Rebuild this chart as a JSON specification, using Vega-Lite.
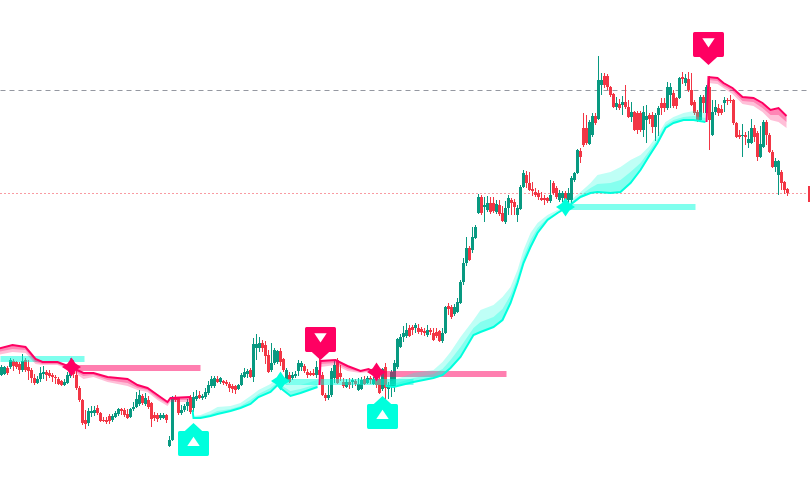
{"$schema":"https://vega.github.io/schema/vega-lite/v6.json","width":810,"height":493,"padding":0,"autosize":{"type":"none"},"background":"#ffffff","view":{"stroke":null},
"config":{"scale":{"nice":false,"zero":false}},
"datasets":{
"levels":[{"t":0,"t2":810,"p":409.5,"kind":"dash"},{"t":0,"t2":810,"p":306.5,"kind":"dot"}],
"zones":[{"t":0,"t2":84,"hi":144,"lo":138,"d":"up"},{"t":285,"t2":413,"hi":121,"lo":115,"d":"up"},{"t":565,"t2":695,"hi":296,"lo":290,"d":"up"},{"t":70,"t2":200,"hi":135,"lo":129,"d":"down"},{"t":376,"t2":506,"hi":129,"lo":123,"d":"down"}],
"stars":[{"t":71,"p":133,"d":"down"},{"t":280,"p":119,"d":"up"},{"t":376,"p":128,"d":"down"},{"t":565,"p":293,"d":"up"}],
"signals":[{"t":193,"p":56.5,"d":"up"},{"t":382,"p":83.5,"d":"up"},{"t":320,"p":160.5,"d":"down"},{"t":708,"p":455.5,"d":"down"}],
"bands":[
{"s":"p1","d":"down","t":-3,"a":151,"b":145,"m":148},{"s":"p1","d":"down","t":12,"a":155,"b":148,"m":151},{"s":"p1","d":"down","t":25,"a":153,"b":147,"m":150},{"s":"p1","d":"down","t":35,"a":141,"b":136,"m":138},{"s":"p1","d":"down","t":42,"a":138,"b":135,"m":136},{"s":"p1","d":"down","t":57,"a":138,"b":135,"m":136},{"s":"p1","d":"down","t":70,"a":133,"b":130,"m":131},{"s":"p1","d":"down","t":83,"a":127,"b":121,"m":124},{"s":"p1","d":"down","t":93,"a":127,"b":123,"m":125},{"s":"p1","d":"down","t":107,"a":123,"b":118,"m":120},{"s":"p1","d":"down","t":127,"a":121,"b":114,"m":117},{"s":"p1","d":"down","t":137,"a":115,"b":110,"m":112},{"s":"p1","d":"down","t":147,"a":112,"b":108,"m":110},{"s":"p1","d":"down","t":157,"a":105,"b":100,"m":102},{"s":"p1","d":"down","t":167,"a":98,"b":94,"m":96},{"s":"p1","d":"down","t":170,"a":102,"b":98,"m":100},{"s":"p1","d":"down","t":190,"a":103,"b":98,"m":100},
{"s":"c1","d":"up","t":192,"a":90,"b":90,"m":90},{"s":"c1","d":"up","t":193,"a":82,"b":84,"m":83},{"s":"c1","d":"up","t":200,"a":82,"b":85,"m":84},{"s":"c1","d":"up","t":210,"a":84,"b":89,"m":86},{"s":"c1","d":"up","t":217,"a":86,"b":93,"m":89},{"s":"c1","d":"up","t":230,"a":89,"b":94,"m":91},{"s":"c1","d":"up","t":240,"a":92,"b":97,"m":94},{"s":"c1","d":"up","t":250,"a":96,"b":104,"m":100},{"s":"c1","d":"up","t":258,"a":103,"b":110,"m":106},{"s":"c1","d":"up","t":270,"a":108,"b":116,"m":112},{"s":"c1","d":"up","t":277,"a":115,"b":122,"m":118},{"s":"c1","d":"up","t":280,"a":112,"b":118,"m":115},{"s":"c1","d":"up","t":290,"a":104,"b":115,"m":109},{"s":"c1","d":"up","t":300,"a":107,"b":115,"m":111},{"s":"c1","d":"up","t":317,"a":113,"b":120,"m":116},
{"s":"p2","d":"down","t":319,"a":115,"b":115,"m":115},{"s":"p2","d":"down","t":320,"a":139,"b":133,"m":136},{"s":"p2","d":"down","t":335,"a":140,"b":135,"m":137},{"s":"p2","d":"down","t":347,"a":134,"b":129,"m":131},{"s":"p2","d":"down","t":360,"a":129,"b":127,"m":128},{"s":"p2","d":"down","t":368,"a":131,"b":128,"m":129},{"s":"p2","d":"down","t":376,"a":127,"b":125,"m":126},
{"s":"c2","d":"up","t":385,"a":114,"b":116,"m":115},{"s":"c2","d":"up","t":393,"a":113,"b":120,"m":116},{"s":"c2","d":"up","t":413,"a":118,"b":127,"m":122},{"s":"c2","d":"up","t":433,"a":122,"b":130,"m":126},{"s":"c2","d":"up","t":442,"a":125,"b":138,"m":131},{"s":"c2","d":"up","t":450,"a":132,"b":148,"m":140},{"s":"c2","d":"up","t":460,"a":143,"b":163,"m":153},{"s":"c2","d":"up","t":473,"a":165,"b":180,"m":172},{"s":"c2","d":"up","t":480,"a":168,"b":190,"m":178},{"s":"c2","d":"up","t":493,"a":173,"b":195,"m":183},{"s":"c2","d":"up","t":502,"a":180,"b":203,"m":191},{"s":"c2","d":"up","t":510,"a":197,"b":213,"m":205},{"s":"c2","d":"up","t":517,"a":217,"b":230,"m":223},{"s":"c2","d":"up","t":523,"a":237,"b":250,"m":243},{"s":"c2","d":"up","t":530,"a":253,"b":267,"m":260},{"s":"c2","d":"up","t":537,"a":267,"b":277,"m":272},{"s":"c2","d":"up","t":547,"a":280,"b":285,"m":282},{"s":"c2","d":"up","t":557,"a":287,"b":290,"m":288},{"s":"c2","d":"up","t":567,"a":293,"b":297,"m":295},{"s":"c2","d":"up","t":580,"a":303,"b":308,"m":305},{"s":"c2","d":"up","t":590,"a":307,"b":317,"m":312},{"s":"c2","d":"up","t":597,"a":308,"b":325,"m":316},{"s":"c2","d":"up","t":610,"a":307,"b":328,"m":317},{"s":"c2","d":"up","t":620,"a":308,"b":333,"m":320},{"s":"c2","d":"up","t":630,"a":317,"b":340,"m":328},{"s":"c2","d":"up","t":640,"a":330,"b":345,"m":337},{"s":"c2","d":"up","t":648,"a":343,"b":353,"m":348},{"s":"c2","d":"up","t":657,"a":357,"b":365,"m":361},{"s":"c2","d":"up","t":665,"a":372,"b":378,"m":375},{"s":"c2","d":"up","t":673,"a":377,"b":383,"m":380},{"s":"c2","d":"up","t":683,"a":380,"b":387,"m":383},{"s":"c2","d":"up","t":693,"a":380,"b":389,"m":384},{"s":"c2","d":"up","t":705,"a":378,"b":387,"m":382},
{"s":"p3","d":"down","t":706,"a":378,"b":378,"m":378},{"s":"p3","d":"down","t":708,"a":423,"b":417,"m":420},{"s":"p3","d":"down","t":717,"a":422,"b":416,"m":419},{"s":"p3","d":"down","t":723,"a":417,"b":412,"m":414},{"s":"p3","d":"down","t":732,"a":412,"b":406,"m":409},{"s":"p3","d":"down","t":742,"a":403,"b":396,"m":399},{"s":"p3","d":"down","t":753,"a":402,"b":394,"m":398},{"s":"p3","d":"down","t":762,"a":397,"b":388,"m":392},{"s":"p3","d":"down","t":770,"a":390,"b":380,"m":385},{"s":"p3","d":"down","t":778,"a":392,"b":378,"m":385},{"s":"p3","d":"down","t":786,"a":384,"b":372,"m":378}
],
"candles":[
{"t":1,"o":125,"c":133,"h":135,"l":124},{"t":4,"o":126,"c":133,"h":134,"l":125},{"t":7,"o":132,"c":127,"h":134,"l":125},{"t":10,"o":133,"c":140,"h":142,"l":131},{"t":13,"o":139,"c":134,"h":141,"l":129},{"t":16,"o":138,"c":133,"h":139,"l":131},{"t":19,"o":136,"c":130,"h":138,"l":126},{"t":22,"o":130,"c":139,"h":146,"l":128},{"t":25,"o":140,"c":130,"h":142,"l":128},{"t":28,"o":133,"c":129,"h":140,"l":120},
{"t":31,"o":130,"c":122,"h":132,"l":117},{"t":34,"o":122,"c":117,"h":126,"l":115},{"t":37,"o":117,"c":121,"h":124,"l":116},{"t":40,"o":121,"c":127,"h":133,"l":118},{"t":43,"o":126,"c":128,"h":134,"l":121},{"t":46,"o":128,"c":125,"h":130,"l":119},{"t":49,"o":127,"c":124,"h":130,"l":122},{"t":52,"o":125,"c":123,"h":127,"l":118},{"t":55,"o":123,"c":122,"h":125,"l":116},{"t":58,"o":121,"c":116,"h":123,"l":115},
{"t":61,"o":119,"c":115,"h":120,"l":114},{"t":64,"o":115,"c":118,"h":121,"l":114},{"t":67,"o":117,"c":125,"h":128,"l":116},{"t":70,"o":124,"c":133,"h":142,"l":122},{"t":73,"o":132,"c":126,"h":140,"l":122},{"t":76,"o":125,"c":112,"h":129,"l":110},{"t":79,"o":112,"c":100,"h":114,"l":98},{"t":82,"o":100,"c":77,"h":101,"l":75},{"t":85,"o":80,"c":76,"h":90,"l":71},{"t":88,"o":77,"c":89,"h":92,"l":74},
{"t":91,"o":87,"c":89,"h":94,"l":83},{"t":94,"o":87,"c":90,"h":94,"l":84},{"t":97,"o":92,"c":87,"h":95,"l":85},{"t":100,"o":87,"c":79,"h":88,"l":78},{"t":103,"o":80,"c":79,"h":83,"l":78},{"t":106,"o":80,"c":78,"h":83,"l":76},{"t":109,"o":84,"c":79,"h":86,"l":76},{"t":112,"o":80,"c":84,"h":86,"l":78},{"t":115,"o":83,"c":87,"h":89,"l":82},{"t":118,"o":86,"c":91,"h":92,"l":84},
{"t":121,"o":91,"c":89,"h":92,"l":85},{"t":124,"o":90,"c":85,"h":92,"l":83},{"t":127,"o":86,"c":82,"h":91,"l":81},{"t":130,"o":83,"c":91,"h":92,"l":82},{"t":133,"o":91,"c":93,"h":98,"l":89},{"t":136,"o":93,"c":101,"h":108,"l":92},{"t":139,"o":96,"c":105,"h":110,"l":94},{"t":142,"o":104,"c":97,"h":106,"l":95},{"t":145,"o":96,"c":102,"h":107,"l":94},{"t":148,"o":100,"c":93,"h":104,"l":91},
{"t":151,"o":97,"c":81,"h":98,"l":73},{"t":154,"o":85,"c":82,"h":88,"l":79},{"t":157,"o":85,"c":81,"h":87,"l":78},{"t":160,"o":82,"c":85,"h":87,"l":80},{"t":163,"o":82,"c":85,"h":87,"l":81},{"t":166,"o":85,"c":80,"h":86,"l":77},{"t":169,"o":54,"c":60,"h":64,"l":53},{"t":172,"o":60,"c":103,"h":104,"l":59},{"t":175,"o":103,"c":100,"h":105,"l":98},{"t":178,"o":102,"c":87,"h":103,"l":85},
{"t":181,"o":87,"c":90,"h":95,"l":85},{"t":184,"o":90,"c":94,"h":96,"l":88},{"t":187,"o":94,"c":98,"h":101,"l":89},{"t":190,"o":103,"c":88,"h":105,"l":86},{"t":193,"o":92,"c":103,"h":108,"l":88},{"t":196,"o":101,"c":104,"h":110,"l":99},{"t":199,"o":105,"c":102,"h":109,"l":101},{"t":202,"o":102,"c":104,"h":106,"l":100},{"t":205,"o":103,"c":108,"h":112,"l":101},{"t":208,"o":107,"c":115,"h":119,"l":105},
{"t":211,"o":114,"c":121,"h":124,"l":112},{"t":214,"o":114,"c":122,"h":124,"l":112},{"t":217,"o":121,"c":118,"h":124,"l":117},{"t":220,"o":118,"c":122,"h":123,"l":116},{"t":223,"o":119,"c":117,"h":120,"l":115},{"t":226,"o":118,"c":116,"h":120,"l":114},{"t":229,"o":116,"c":112,"h":118,"l":108},{"t":232,"o":114,"c":111,"h":116,"l":107},{"t":235,"o":114,"c":110,"h":115,"l":106},{"t":238,"o":111,"c":115,"h":116,"l":110},
{"t":241,"o":115,"c":125,"h":127,"l":114},{"t":244,"o":123,"c":128,"h":132,"l":122},{"t":247,"o":126,"c":129,"h":131,"l":122},{"t":250,"o":130,"c":123,"h":132,"l":122},{"t":253,"o":123,"c":156,"h":162,"l":118},{"t":256,"o":152,"c":156,"h":166,"l":140},{"t":259,"o":152,"c":157,"h":163,"l":148},{"t":262,"o":157,"c":152,"h":160,"l":148},{"t":265,"o":155,"c":144,"h":159,"l":136},{"t":268,"o":145,"c":128,"h":150,"l":127},
{"t":271,"o":130,"c":137,"h":157,"l":128},{"t":274,"o":137,"c":150,"h":152,"l":135},{"t":277,"o":138,"c":149,"h":150,"l":136},{"t":280,"o":149,"c":138,"h":152,"l":134},{"t":283,"o":141,"c":130,"h":142,"l":128},{"t":286,"o":118,"c":130,"h":132,"l":117},{"t":289,"o":125,"c":118,"h":128,"l":117},{"t":292,"o":122,"c":125,"h":128,"l":120},{"t":295,"o":124,"c":126,"h":129,"l":122},{"t":298,"o":129,"c":137,"h":140,"l":124},
{"t":301,"o":133,"c":137,"h":139,"l":129},{"t":304,"o":134,"c":129,"h":136,"l":127},{"t":307,"o":128,"c":125,"h":131,"l":122},{"t":310,"o":127,"c":125,"h":129,"l":124},{"t":313,"o":127,"c":125,"h":131,"l":124},{"t":316,"o":125,"c":133,"h":139,"l":122},{"t":319,"o":130,"c":125,"h":142,"l":122},{"t":322,"o":125,"c":105,"h":128,"l":104},{"t":325,"o":105,"c":102,"h":107,"l":99},{"t":328,"o":102,"c":105,"h":115,"l":100},
{"t":331,"o":105,"c":129,"h":132,"l":103},{"t":334,"o":122,"c":135,"h":140,"l":117},{"t":337,"o":140,"c":117,"h":142,"l":116},{"t":340,"o":127,"c":123,"h":135,"l":119},{"t":343,"o":118,"c":114,"h":122,"l":112},{"t":346,"o":113,"c":118,"h":121,"l":112},{"t":349,"o":118,"c":115,"h":122,"l":111},{"t":352,"o":118,"c":120,"h":122,"l":112},{"t":355,"o":119,"c":116,"h":121,"l":114},{"t":358,"o":110,"c":116,"h":122,"l":109},
{"t":361,"o":111,"c":120,"h":123,"l":110},{"t":364,"o":121,"c":116,"h":124,"l":115},{"t":367,"o":117,"c":122,"h":124,"l":116},{"t":370,"o":122,"c":120,"h":124,"l":116},{"t":373,"o":116,"c":121,"h":123,"l":115},{"t":376,"o":121,"c":115,"h":128,"l":112},{"t":379,"o":121,"c":107,"h":127,"l":106},{"t":382,"o":111,"c":131,"h":132,"l":109},{"t":385,"o":133,"c":112,"h":137,"l":98},{"t":388,"o":111,"c":115,"h":118,"l":101},
{"t":391,"o":113,"c":128,"h":130,"l":103},{"t":394,"o":114,"c":137,"h":140,"l":108},{"t":397,"o":133,"c":161,"h":162,"l":131},{"t":400,"o":153,"c":163,"h":166,"l":152},{"t":403,"o":163,"c":167,"h":174,"l":158},{"t":406,"o":164,"c":170,"h":177,"l":162},{"t":409,"o":172,"c":164,"h":175,"l":163},{"t":412,"o":173,"c":170,"h":175,"l":165},{"t":415,"o":172,"c":175,"h":177,"l":167},{"t":418,"o":172,"c":168,"h":176,"l":166},
{"t":421,"o":171,"c":168,"h":173,"l":165},{"t":424,"o":169,"c":167,"h":172,"l":164},{"t":427,"o":165,"c":170,"h":175,"l":163},{"t":430,"o":170,"c":168,"h":172,"l":165},{"t":433,"o":167,"c":160,"h":172,"l":159},{"t":436,"o":168,"c":164,"h":172,"l":162},{"t":439,"o":169,"c":159,"h":170,"l":158},{"t":442,"o":159,"c":167,"h":172,"l":157},{"t":445,"o":167,"c":193,"h":194,"l":166},{"t":448,"o":194,"c":191,"h":197,"l":185},
{"t":451,"o":193,"c":183,"h":195,"l":181},{"t":454,"o":186,"c":193,"h":196,"l":184},{"t":457,"o":188,"c":198,"h":202,"l":187},{"t":460,"o":197,"c":218,"h":220,"l":196},{"t":463,"o":218,"c":237,"h":242,"l":215},{"t":466,"o":237,"c":252,"h":263,"l":234},{"t":469,"o":252,"c":240,"h":254,"l":239},{"t":472,"o":250,"c":263,"h":273,"l":247},{"t":475,"o":262,"c":273,"h":275,"l":261},{"t":478,"o":287,"c":303,"h":306,"l":286},
{"t":481,"o":303,"c":287,"h":305,"l":285},{"t":484,"o":293,"c":295,"h":303,"l":278},{"t":487,"o":290,"c":297,"h":304,"l":288},{"t":490,"o":297,"c":288,"h":303,"l":286},{"t":493,"o":297,"c":289,"h":303,"l":287},{"t":496,"o":288,"c":296,"h":300,"l":286},{"t":499,"o":295,"c":286,"h":300,"l":284},{"t":502,"o":287,"c":279,"h":294,"l":278},{"t":505,"o":278,"c":292,"h":299,"l":276},{"t":508,"o":292,"c":302,"h":305,"l":285},
{"t":511,"o":300,"c":297,"h":302,"l":285},{"t":514,"o":298,"c":293,"h":301,"l":285},{"t":517,"o":285,"c":292,"h":295,"l":278},{"t":520,"o":291,"c":313,"h":315,"l":290},{"t":523,"o":313,"c":327,"h":330,"l":312},{"t":526,"o":325,"c":317,"h":329,"l":312},{"t":529,"o":317,"c":310,"h":328,"l":309},{"t":532,"o":311,"c":309,"h":318,"l":304},{"t":535,"o":308,"c":305,"h":312,"l":303},{"t":538,"o":307,"c":303,"h":310,"l":300},
{"t":541,"o":302,"c":300,"h":308,"l":299},{"t":544,"o":302,"c":300,"h":305,"l":295},{"t":547,"o":302,"c":299,"h":303,"l":297},{"t":550,"o":299,"c":305,"h":320,"l":297},{"t":553,"o":317,"c":307,"h":319,"l":305},{"t":556,"o":312,"c":303,"h":314,"l":301},{"t":559,"o":300,"c":307,"h":310,"l":298},{"t":562,"o":302,"c":307,"h":309,"l":298},{"t":565,"o":307,"c":299,"h":309,"l":297},{"t":568,"o":300,"c":307,"h":312,"l":297},
{"t":571,"o":300,"c":322,"h":324,"l":296},{"t":574,"o":320,"c":327,"h":328,"l":318},{"t":577,"o":327,"c":350,"h":351,"l":326},{"t":580,"o":349,"c":343,"h":352,"l":337},{"t":583,"o":372,"c":355,"h":387,"l":353},{"t":586,"o":372,"c":357,"h":385,"l":355},{"t":589,"o":356,"c":378,"h":380,"l":355},{"t":592,"o":365,"c":384,"h":387,"l":363},{"t":595,"o":384,"c":377,"h":387,"l":375},{"t":598,"o":381,"c":420,"h":444,"l":380},
{"t":601,"o":415,"c":420,"h":427,"l":405},{"t":604,"o":424,"c":415,"h":427,"l":412},{"t":607,"o":424,"c":413,"h":426,"l":410},{"t":610,"o":413,"c":405,"h":414,"l":403},{"t":613,"o":406,"c":393,"h":407,"l":392},{"t":616,"o":393,"c":397,"h":403,"l":390},{"t":619,"o":396,"c":392,"h":401,"l":390},{"t":622,"o":395,"c":398,"h":404,"l":385},{"t":625,"o":398,"c":393,"h":415,"l":391},{"t":628,"o":393,"c":383,"h":400,"l":382},
{"t":631,"o":383,"c":388,"h":398,"l":378},{"t":634,"o":388,"c":370,"h":389,"l":369},{"t":637,"o":387,"c":370,"h":389,"l":366},{"t":640,"o":387,"c":370,"h":389,"l":368},{"t":643,"o":370,"c":388,"h":394,"l":363},{"t":646,"o":380,"c":384,"h":395,"l":357},{"t":649,"o":385,"c":381,"h":387,"l":376},{"t":652,"o":385,"c":373,"h":388,"l":367},{"t":655,"o":373,"c":385,"h":387,"l":359},{"t":658,"o":385,"c":392,"h":394,"l":364},
{"t":661,"o":397,"c":392,"h":402,"l":385},{"t":664,"o":397,"c":392,"h":402,"l":388},{"t":667,"o":392,"c":413,"h":418,"l":390},{"t":670,"o":405,"c":413,"h":417,"l":392},{"t":673,"o":407,"c":394,"h":410,"l":392},{"t":676,"o":402,"c":394,"h":403,"l":391},{"t":679,"o":402,"c":422,"h":423,"l":401},{"t":682,"o":423,"c":421,"h":428,"l":416},{"t":685,"o":417,"c":422,"h":426,"l":414},{"t":688,"o":421,"c":410,"h":428,"l":408},
{"t":691,"o":410,"c":395,"h":427,"l":394},{"t":694,"o":398,"c":387,"h":400,"l":385},{"t":697,"o":388,"c":380,"h":390,"l":378},{"t":700,"o":380,"c":403,"h":405,"l":378},{"t":703,"o":403,"c":397,"h":405,"l":387},{"t":706,"o":387,"c":413,"h":415,"l":380},{"t":709,"o":413,"c":380,"h":424,"l":350},{"t":712,"o":365,"c":388,"h":400,"l":364},{"t":715,"o":388,"c":393,"h":400,"l":385},{"t":718,"o":392,"c":387,"h":396,"l":384},
{"t":721,"o":391,"c":387,"h":395,"l":385},{"t":724,"o":397,"c":400,"h":403,"l":388},{"t":727,"o":400,"c":399,"h":402,"l":395},{"t":730,"o":400,"c":399,"h":405,"l":397},{"t":733,"o":400,"c":377,"h":401,"l":375},{"t":736,"o":377,"c":363,"h":378,"l":362},{"t":739,"o":365,"c":363,"h":370,"l":361},{"t":742,"o":364,"c":365,"h":376,"l":343},{"t":745,"o":365,"c":363,"h":368,"l":355},{"t":748,"o":357,"c":361,"h":369,"l":352},
{"t":751,"o":357,"c":372,"h":381,"l":356},{"t":754,"o":372,"c":363,"h":375,"l":358},{"t":757,"o":367,"c":343,"h":369,"l":339},{"t":760,"o":343,"c":356,"h":374,"l":342},{"t":763,"o":353,"c":378,"h":380,"l":352},{"t":766,"o":378,"c":365,"h":380,"l":355},{"t":769,"o":365,"c":348,"h":367,"l":347},{"t":772,"o":348,"c":333,"h":350,"l":332},{"t":775,"o":333,"c":339,"h":342,"l":328},{"t":778,"o":325,"c":339,"h":340,"l":305},
{"t":781,"o":328,"c":317,"h":330,"l":310},{"t":784,"o":318,"c":310,"h":319,"l":306},{"t":787,"o":311,"c":307,"h":312,"l":304},{"t":809,"o":314,"c":298,"h":314,"l":298}
]},
"encoding":{"x":{"field":"t","type":"quantitative","axis":null,"scale":{"domain":[-0.5,809.5]}}},
"layer":[
{"data":{"name":"levels"},"transform":[{"filter":"datum.kind=='dash'"}],"mark":{"type":"rule","stroke":"#9598A1","strokeWidth":1,"strokeDash":[5,4],"clip":true},"encoding":{"x2":{"field":"t2"},"y":{"field":"p","type":"quantitative","axis":null,"scale":{"domain":[7,500]}}}},
{"data":{"name":"levels"},"transform":[{"filter":"datum.kind=='dot'"}],"mark":{"type":"rule","stroke":"#F23645","strokeWidth":1,"strokeDash":[1,3],"clip":true},"encoding":{"x2":{"field":"t2"},"y":{"field":"p","type":"quantitative","axis":null,"scale":{"domain":[7,500]}}}},
{"data":{"name":"candles"},"mark":{"type":"rule","strokeWidth":1},"encoding":{"y":{"field":"l","type":"quantitative","axis":null,"scale":{"domain":[7,500]}},"y2":{"field":"h"},"color":{"condition":{"test":"datum.c>=datum.o","value":"#089981"},"value":"#F23645"}}},
{"data":{"name":"candles"},"mark":{"type":"rule","strokeWidth":3},"encoding":{"y":{"field":"o","type":"quantitative","axis":null,"scale":{"domain":[7,500]}},"y2":{"field":"c"},"color":{"condition":{"test":"datum.c>=datum.o","value":"#089981"},"value":"#F23645"}}},
{"data":{"name":"zones"},"mark":{"type":"rect","opacity":0.5},"encoding":{"x2":{"field":"t2"},"y":{"field":"hi","type":"quantitative","axis":null,"scale":{"domain":[7,500]}},"y2":{"field":"lo"},"color":{"field":"d","type":"nominal","legend":null,"scale":{"domain":["up","down"],"range":["#00FFDD","#FF0062"]}}}},
{"data":{"name":"bands"},"mark":{"type":"area","opacity":0.25,"interpolate":"linear","clip":true},"encoding":{"y":{"field":"a","type":"quantitative","axis":null,"scale":{"domain":[7,500]}},"y2":{"field":"b"},"detail":{"field":"s"},"color":{"field":"d","type":"nominal","legend":null,"scale":{"domain":["up","down"],"range":["#00FFDD","#FF0062"]}}}},
{"data":{"name":"bands"},"mark":{"type":"area","opacity":0.3,"interpolate":"linear","clip":true},"encoding":{"y":{"field":"a","type":"quantitative","axis":null,"scale":{"domain":[7,500]}},"y2":{"field":"m"},"detail":{"field":"s"},"color":{"field":"d","type":"nominal","legend":null,"scale":{"domain":["up","down"],"range":["#00FFDD","#FF0062"]}}}},
{"data":{"name":"bands"},"mark":{"type":"line","strokeWidth":2,"interpolate":"linear","clip":true},"encoding":{"y":{"field":"a","type":"quantitative","axis":null,"scale":{"domain":[7,500]}},"detail":{"field":"s"},"color":{"field":"d","type":"nominal","legend":null,"scale":{"domain":["up","down"],"range":["#00FFDD","#FF0062"]}}}},
{"data":{"name":"stars"},"mark":{"type":"point","filled":true,"opacity":1,"size":361,"shape":"M0,-1 L0.4,-0.4 L1,0 L0.4,0.4 L0,1 L-0.4,0.4 L-1,0 L-0.4,-0.4 Z"},"encoding":{"y":{"field":"p","type":"quantitative","axis":null,"scale":{"domain":[7,500]}},"color":{"field":"d","type":"nominal","legend":null,"scale":{"domain":["up","down"],"range":["#00FFDD","#FF0062"]}}}},
{"data":{"name":"signals"},"transform":[{"filter":"datum.d=='up'"}],"mark":{"type":"point","filled":true,"opacity":1,"size":961,"color":"#00FFDD","shape":"M-0.9,-0.806 L-0.56,-0.806 L0,-1.32 L0.56,-0.806 L0.9,-0.806 Q1,-0.806 1,-0.7 L1,0.7 Q1,0.806 0.9,0.806 L-0.9,0.806 Q-1,0.806 -1,0.7 L-1,-0.7 Q-1,-0.806 -0.9,-0.806 Z"},"encoding":{"y":{"field":"p","type":"quantitative","axis":null,"scale":{"domain":[7,500]}}}},
{"data":{"name":"signals"},"transform":[{"filter":"datum.d=='down'"}],"mark":{"type":"point","filled":true,"opacity":1,"size":961,"color":"#FF0062","shape":"M-0.9,0.806 L-0.56,0.806 L0,1.32 L0.56,0.806 L0.9,0.806 Q1,0.806 1,0.7 L1,-0.7 Q1,-0.806 0.9,-0.806 L-0.9,-0.806 Q-1,-0.806 -1,-0.7 L-1,0.7 Q-1,0.806 -0.9,0.806 Z"},"encoding":{"y":{"field":"p","type":"quantitative","axis":null,"scale":{"domain":[7,500]}}}},
{"data":{"name":"signals"},"transform":[{"filter":"datum.d=='up'"}],"mark":{"type":"point","filled":true,"opacity":1,"size":961,"color":"#ffffff","shape":"M0,-0.44 L0.4,0.16 L-0.4,0.16 Z"},"encoding":{"y":{"field":"p","type":"quantitative","axis":null,"scale":{"domain":[7,500]}}}},
{"data":{"name":"signals"},"transform":[{"filter":"datum.d=='down'"}],"mark":{"type":"point","filled":true,"opacity":1,"size":961,"color":"#ffffff","shape":"M-0.4,-0.4 L0.4,-0.4 L0,0.2 Z"},"encoding":{"y":{"field":"p","type":"quantitative","axis":null,"scale":{"domain":[7,500]}}}}
]}
